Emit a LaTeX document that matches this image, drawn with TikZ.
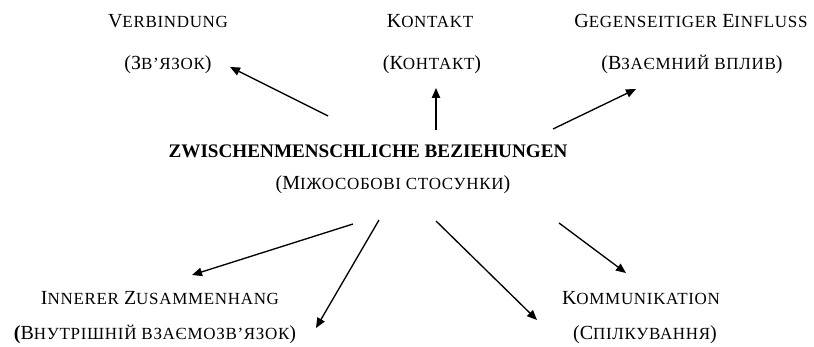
\documentclass[tikz,border=0pt]{standalone}
\usepackage{fontspec}
\setmainfont{Liberation Serif}
\usetikzlibrary{arrows.meta,positioning}
\newcommand{\kap}[1]{{\fontsize{10.2}{12}\selectfont\addfontfeature{LetterSpace=4}#1}}
\tikzset{
>={Triangle[length=6pt,width=5pt]},
  begriff/.style={
    inner sep=0pt,
    anchor=base,
    font=\fontsize{12}{14}\selectfont},
  pfeil/.style={draw, thick, ->},
}

\begin{document}
\begin{tikzpicture}[x=0.6pt, y=-0.6pt]
	\useasboundingbox (0,0) rectangle (814,347);

	% Mitte
	\node[begriff, font=\fontsize{11.5}{14}\selectfont\bfseries] (haupt) at (368,158) {ZWISCHENMENSCHLICHE BEZIEHUNGEN};
	\node[begriff] (hauptua) at (393,190) {(М\kap{ІЖОСОБОВІ СТОСУНКИ})};

	% oben
	\node[begriff] (verb) at (168,28) {V\kap{ERBINDUNG}};
	\node[begriff] (verbua) at (168,70) {(З\kap{В’ЯЗОК})};
	\node[begriff] (kont) at (430,28) {K\kap{ONTAKT}};
	\node[begriff] (kontua) at (432,70) {(К\kap{ОНТАКТ})};
	\node[begriff] (einf) at (691,28) {G\kap{EGENSEITIGER} E\kap{INFLUSS}};
	\node[begriff] (einfua) at (692,70) {(В\kap{ЗАЄМНИЙ ВПЛИВ})};

	% unten
	\node[begriff] (inner) at (160,305) {I\kap{NNERER} Z\kap{USAMMENHANG}};
	\node[begriff] (innerua) at (155,340) {\textbf{(}В\kap{НУТРІШНІЙ ВЗАЄМОЗВ’ЯЗОК})};
	\node[begriff] (komm) at (641,305) {K\kap{OMMUNIKATION}};
	\node[begriff] (kommua) at (645,340) {(С\kap{ПІЛКУВАННЯ})};

	% Pfeile
	\coordinate (a1) at (328,116); \coordinate (b1) at (230,67);
	\coordinate (a2) at (436,130); \coordinate (b2) at (436,88);
	\coordinate (a3) at (553,129); \coordinate (b3) at (636,89);
	\coordinate (a4) at (353,224); \coordinate (b4) at (192,275);
	\coordinate (a5) at (379,220); \coordinate (b5) at (316,328);
	\coordinate (a6) at (436,221); \coordinate (b6) at (537,320);
	\coordinate (a7) at (559,223); \coordinate (b7) at (626,273);

	\draw[pfeil] (a1) -- (b1);
	\draw[pfeil] (a2) -- (b2);
	\draw[pfeil] (a3) -- (b3);
	\draw[pfeil] (a4) -- (b4);
	\draw[pfeil] (a5) -- (b5);
	\draw[pfeil] (a6) -- (b6);
	\draw[pfeil] (a7) -- (b7);

\end{tikzpicture}
\end{document}
